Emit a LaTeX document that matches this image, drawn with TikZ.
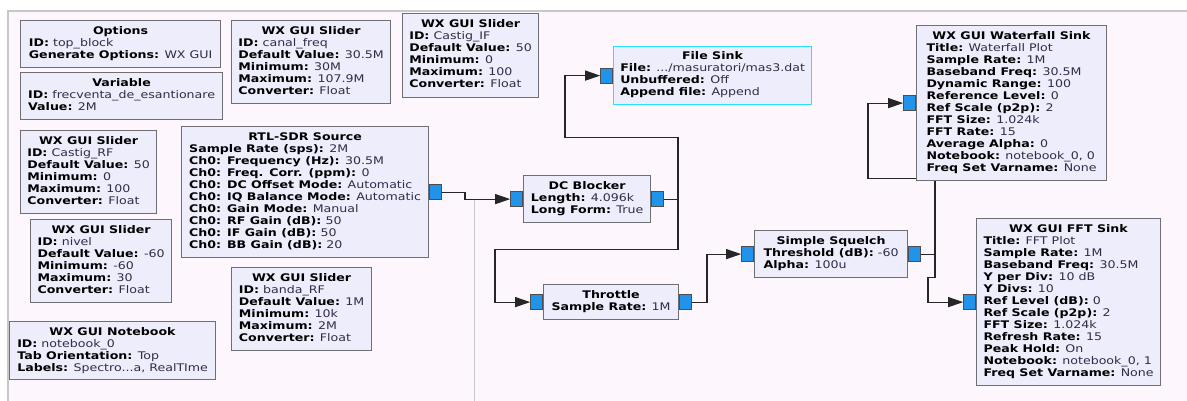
\documentclass[tikz,border=0pt]{standalone}
\usepackage{fontspec}
\setmainfont{DejaVu Sans}[FakeStretch=1.2]
\usetikzlibrary{arrows.meta}
\definecolor{canvas}{RGB}{253,247,253}
\definecolor{frameline}{RGB}{200,200,200}
\definecolor{blkfill}{RGB}{238,237,252}
\definecolor{blkline}{RGB}{110,110,115}
\definecolor{portfill}{RGB}{33,147,235}
\definecolor{valtext}{RGB}{45,45,70}
\definecolor{selline}{RGB}{40,225,250}
\pgfdeclarelayer{wires}
\pgfsetlayers{wires,main}
\newcommand{\kv}[2]{\textbf{#1:} \textcolor{valtext}{#2}}
\newcommand{\blk}[2]{\begin{tabular}{@{}l@{}}\multicolumn{1}{@{}c@{}}{\textbf{#1}}\\#2\end{tabular}}
\begin{document}
\begin{tikzpicture}[x=1pt, y=-1pt, font=\fontsize{10.5}{12}\selectfont,
  block/.style={draw=blkline, fill=blkfill, line width=1.2pt, inner sep=0pt, anchor=north west},
  port/.style={draw=blkline!70!black, fill=portfill, line width=0.8pt, minimum width=12pt, minimum height=15pt, inner sep=0pt},
  wire/.style={line width=1.1pt, black!85, -{Triangle[length=15pt,width=10pt]}}]
\useasboundingbox (0,0) rectangle (1187,401);
% blocks
\node[block, minimum width=200pt, minimum height=47pt] (opts) at (20,20) {\blk{Options}{\kv{ID}{top\_block}\\\kv{Generate Options}{WX GUI}}};
\node[block, minimum width=202pt, minimum height=47pt] (var) at (20,72) {\blk{Variable}{\kv{ID}{frecventa\_de\_esantionare}\\\kv{Value}{2M}}};
\node[block, minimum width=159pt, minimum height=83pt] (canal) at (231,20) {\blk{WX GUI Slider}{\kv{ID}{canal\_freq}\\\kv{Default Value}{30.5M}\\\kv{Minimum}{30M}\\\kv{Maximum}{107.9M}\\\kv{Converter}{Float}}};
\node[block, minimum width=136pt, minimum height=84pt] (castif) at (402,13) {\blk{WX GUI Slider}{\kv{ID}{Castig\_IF}\\\kv{Default Value}{50}\\\kv{Minimum}{0}\\\kv{Maximum}{100}\\\kv{Converter}{Float}}};
\node[block, minimum width=136pt, minimum height=83pt] (castrf) at (20,130) {\blk{WX GUI Slider}{\kv{ID}{Castig\_RF}\\\kv{Default Value}{50}\\\kv{Minimum}{0}\\\kv{Maximum}{100}\\\kv{Converter}{Float}}};
\node[block, minimum width=141pt, minimum height=83pt] (nivel) at (30,219) {\blk{WX GUI Slider}{\kv{ID}{nivel}\\\kv{Default Value}{-60}\\\kv{Minimum}{-60}\\\kv{Maximum}{30}\\\kv{Converter}{Float}}};
\node[block, minimum width=206pt, minimum height=58pt] (nb) at (9,321) {\blk{WX GUI Notebook}{\kv{ID}{notebook\_0}\\\kv{Tab Orientation}{Top}\\\kv{Labels}{Spectro...a, RealTIme}}};
\node[block, minimum width=140pt, minimum height=83pt] (banda) at (231,267) {\blk{WX GUI Slider}{\kv{ID}{banda\_RF}\\\kv{Default Value}{1M}\\\kv{Minimum}{10k}\\\kv{Maximum}{2M}\\\kv{Converter}{Float}}};
\node[block, minimum width=247pt, minimum height=131pt] (rtl) at (181,126) {\blk{RTL-SDR Source}{\kv{Sample Rate (sps)}{2M}\\\kv{Ch0: Frequency (Hz)}{30.5M}\\\kv{Ch0: Freq. Corr. (ppm)}{0}\\\kv{Ch0: DC Offset Mode}{Automatic}\\\kv{Ch0: IQ Balance Mode}{Automatic}\\\kv{Ch0: Gain Mode}{Manual}\\\kv{Ch0: RF Gain (dB)}{50}\\\kv{Ch0: IF Gain (dB)}{50}\\\kv{Ch0: BB Gain (dB)}{20}}};
\node[block, minimum width=127pt, minimum height=47pt] (dcb) at (523,175) {\blk{DC Blocker}{\kv{Length}{4.096k}\\\kv{Long Form}{True}}};
\node[block, draw=selline, minimum width=198pt, minimum height=58pt] (file) at (613,46) {\blk{File Sink}{\kv{File}{.../masuratori/mas3.dat}\\\kv{Unbuffered}{Off}\\\kv{Append file}{Append}}};
\node[block, minimum width=135pt, minimum height=35pt] (thr) at (543,284) {\blk{Throttle}{\kv{Sample Rate}{1M}}};
\node[block, minimum width=153pt, minimum height=47pt] (sq) at (754,230) {\blk{Simple Squelch}{\kv{Threshold (dB)}{-60}\\\kv{Alpha}{100u}}};
\node[block, minimum width=190pt, minimum height=155pt] (wf) at (916,25) {\blk{WX GUI Waterfall Sink}{\kv{Title}{Waterfall Plot}\\\kv{Sample Rate}{1M}\\\kv{Baseband Freq}{30.5M}\\\kv{Dynamic Range}{100}\\\kv{Reference Level}{0}\\\kv{Ref Scale (p2p)}{2}\\\kv{FFT Size}{1.024k}\\\kv{FFT Rate}{15}\\\kv{Average Alpha}{0}\\\kv{Notebook}{notebook\_0, 0}\\\kv{Freq Set Varname}{None}}};
\node[block, minimum width=184pt, minimum height=167pt] (fft) at (976,218) {\blk{WX GUI FFT Sink}{\kv{Title}{FFT Plot}\\\kv{Sample Rate}{1M}\\\kv{Baseband Freq}{30.5M}\\\kv{Y per Div}{10 dB}\\\kv{Y Divs}{10}\\\kv{Ref Level (dB)}{0}\\\kv{Ref Scale (p2p)}{2}\\\kv{FFT Size}{1.024k}\\\kv{Refresh Rate}{15}\\\kv{Peak Hold}{On}\\\kv{Notebook}{notebook\_0, 1}\\\kv{Freq Set Varname}{None}}};
% ports
\node[port, anchor=west] (rtl-out) at (rtl.east) {};
\node[port, anchor=east] (dcb-in) at (dcb.west) {};
\node[port, anchor=west] (dcb-out) at (dcb.east) {};
\node[port, anchor=east] (file-in) at (file.west) {};
\node[port, anchor=east] (thr-in) at (thr.west) {};
\node[port, anchor=west] (thr-out) at (thr.east) {};
\node[port, anchor=east] (sq-in) at (sq.west) {};
\node[port, anchor=west] (sq-out) at (sq.east) {};
\node[port, anchor=east] (wf-in) at (wf.west) {};
\node[port, anchor=east] (fft-in) at (fft.west) {};
% canvas and connections
\begin{pgfonlayer}{wires}
\fill[white] (0,0) rectangle (1187,401);
\fill[canvas] (8,11) rectangle (1187,401);
\draw[frameline, line width=1.2pt] (8,401) -- (8,11) -- (1187,11);
\draw[frameline, line width=1pt] (474,199) -- (474,401);
\draw[wire] (rtl-out.east) -- ++(23,0) |- (dcb-in.west);
\draw[wire] (dcb-out.east) -- ++(14,0) -- ++(0,-62) -- ++(-113,0) |- (file-in.west);
\draw[wire] (dcb-out.east) -- ++(14,0) -- ++(0,50) -- ++(-183,0) |- (thr-in.west);
\draw[wire] (thr-out.east) -- ++(15,0) |- (sq-in.west);
\draw[wire] (sq-out.east) -- ++(14,0) -- ++(0,-76) -- ++(-67,0) |- (wf-in.west);
\draw[wire] (sq-out.east) -- ++(14,0) -- ++(0,23) -- ++(-7,0) |- (fft-in.west);
\end{pgfonlayer}
\end{tikzpicture}
\end{document}
